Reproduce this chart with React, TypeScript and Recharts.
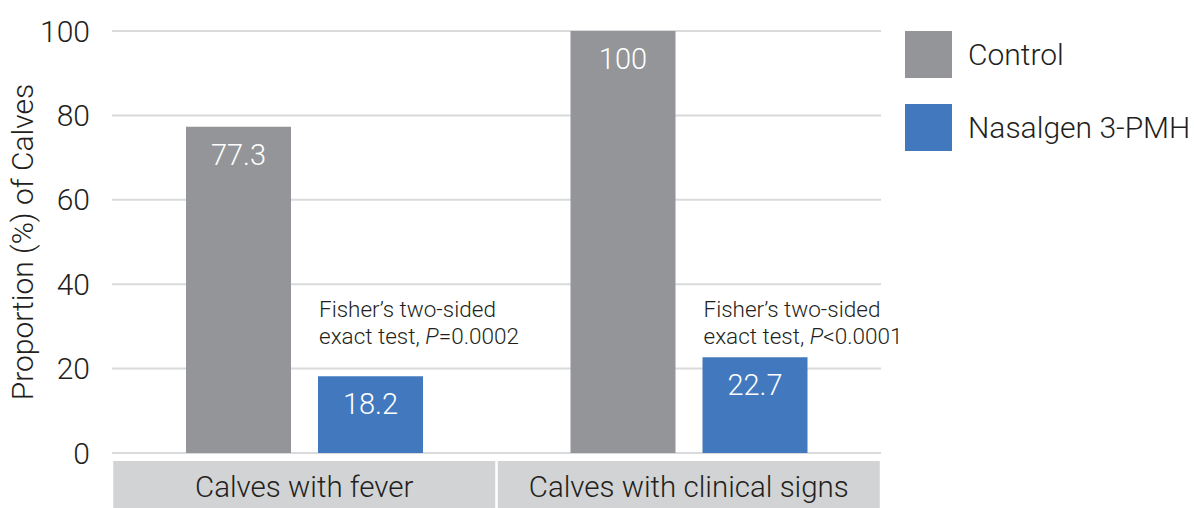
import React from 'react';
import { BarChart, Bar, XAxis, YAxis, CartesianGrid, Legend, LabelList, Label } from 'recharts';

const categories = ['Calves with fever', 'Calves with clinical signs'];
const controlValues = [77.3, 100];
const nasalgenValues = [18.2, 22.7];
const seriesNames = ['Control', 'Nasalgen 3-PMH'];
const yTicks = [0, 20, 40, 60, 80, 100];
const testLine1 = ['Fisher’s two-sided', 'Fisher’s two-sided'];
const testLine2 = ['exact test, ', 'exact test, '];
const pSymbol = 'P';
const pValueText = ['=0.0002', '<0.0001'];
const yTitle = 'Proportion (%) of Calves';

const data = categories.map((c, i) => ({
  category: c,
  control: controlValues[i],
  nasalgen: nasalgenValues[i],
  idx: i,
}));

const FONT = 'Roboto, "Noto Sans", sans-serif';
const TEXT = '#231F20';
const GRAY = '#939598';
const BLUE = '#4279BE';
const BOX = '#D1D3D4';

const CategoryTick = (props: any) => {
  const { x, y, payload } = props;
  return (
    <g>
      <rect x={x - 191} y={y + 8} width={382} height={48} fill={BOX} />
      <text x={x} y={y + 34} textAnchor="middle" dominantBaseline="central" fontFamily={FONT} fontWeight={300} fontSize={29.5} fill={TEXT}>
        {payload.value}
      </text>
    </g>
  );
};

const ValueLabel = (props: any) => {
  const { x, y, width, value } = props;
  return (
    <text x={x + width / 2} y={y + 28} textAnchor="middle" dominantBaseline="central" fontFamily={FONT} fontWeight={300} fontSize={29} fill="#FFFFFF">
      {value}
    </text>
  );
};

const TestLabel = (props: any) => {
  const { x, y, height, index } = props;
  const bottom = y + height;
  return (
    <g fontFamily={FONT} fontWeight={300} fontSize={22.5} fill={TEXT}>
      <text x={x + 1} y={bottom - 136}>{testLine1[index]}</text>
      <text x={x + 1} y={bottom - 109.5}>
        {testLine2[index]}
        <tspan fontStyle="italic">{pSymbol}</tspan>
        {pValueText[index]}
      </text>
    </g>
  );
};

const LegendContent = (props: any) => {
  const { payload } = props;
  return (
    <div style={{ fontFamily: FONT }}>
      {(payload || []).map((entry: any, i: number) => (
        <div key={i} style={{ display: 'flex', alignItems: 'center', height: 47, marginBottom: 26 }}>
          <div style={{ width: 47, height: 47, background: entry.color }} />
          <span style={{ marginLeft: 16, fontSize: 30, fontWeight: 300, color: TEXT, whiteSpace: 'nowrap' }}>{entry.value}</span>
        </div>
      ))}
    </div>
  );
};

const YTitle = (props: any) => {
  const { viewBox } = props;
  const cy = viewBox.y + viewBox.height / 2;
  const cx = 22;
  return (
    <text x={cx} y={cy} transform={`rotate(-90 ${cx} ${cy})`} textAnchor="middle" dominantBaseline="central" fontFamily={FONT} fontWeight={300} fontSize={30} fill={TEXT}>
      {yTitle}
    </text>
  );
};

export default function App() {
  return (
    <div style={{ position: 'absolute', left: 0, top: 0, width: 1194, height: 508, background: '#fff', fontFamily: FONT }}>
      <BarChart width={1194} height={508} data={data} margin={{ top: 31, right: 313, bottom: 0, left: 0 }} barSize={105} barGap={27}>
        <CartesianGrid vertical={false} stroke="#D9DADB" strokeWidth={2} />
        <XAxis dataKey="category" axisLine={false} tickLine={false} tickSize={0} tickMargin={0} height={55} interval={0} tick={<CategoryTick />} />
        <YAxis
          domain={[0, 100]}
          ticks={yTicks}
          interval={0}
          width={112}
          axisLine={false}
          tickLine={false}
          tickSize={0}
          tickMargin={22}
          tick={{ fontFamily: FONT, fontWeight: 300, fontSize: 30, fill: TEXT }}
        >
          <Label content={<YTitle />} />
        </YAxis>
        <Legend
          layout="vertical"
          align="center"
          verticalAlign="middle"
          content={<LegendContent />}
          wrapperStyle={{ position: 'absolute', left: 905, top: 31, width: 289, height: 130 }}
        />
        <Bar dataKey="control" name={seriesNames[0]} fill={GRAY} isAnimationActive={false}>
          <LabelList dataKey="control" content={<ValueLabel />} />
        </Bar>
        <Bar dataKey="nasalgen" name={seriesNames[1]} fill={BLUE} isAnimationActive={false}>
          <LabelList dataKey="nasalgen" content={<ValueLabel />} />
          <LabelList dataKey="idx" content={<TestLabel />} />
        </Bar>
      </BarChart>
    </div>
  );
}
